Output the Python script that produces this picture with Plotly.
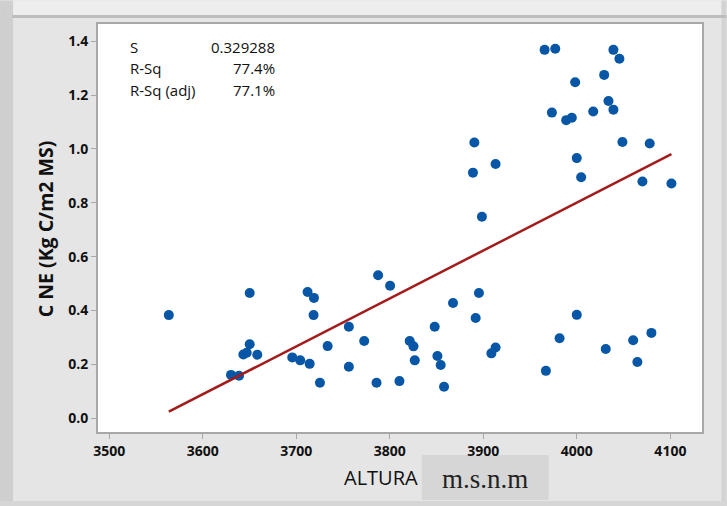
import plotly.graph_objects as go

# ---- data ----
altura = [3563.7, 3630.2, 3638.8, 3643.4, 3647.0, 3650.2, 3650.2, 3658.3, 3695.7, 3704.2,
          3714.3, 3712.1, 3718.9, 3718.5, 3725.3, 3733.5, 3756.2, 3756.2, 3772.6, 3787.5,
          3785.8, 3800.3, 3810.3, 3821.3, 3825.3, 3826.7, 3848.0, 3850.9, 3854.4, 3858.0,
          3867.6, 3888.9, 3890.4, 3891.8, 3895.3, 3898.5, 3908.6, 3913.1, 3913.1, 3965.5,
          3976.9, 3966.9, 3973.3, 3981.5, 3988.6, 3994.6, 3998.2, 3999.9, 3999.9, 4004.6,
          4017.5, 4029.2, 4030.9, 4033.8, 4039.1, 4039.1, 4045.5, 4048.7, 4060.2, 4064.7,
          4070.1, 4077.9, 4079.7, 4101.1]
cne = [0.383, 0.161, 0.158, 0.237, 0.243, 0.465, 0.275, 0.236, 0.226, 0.215,
       0.202, 0.469, 0.447, 0.383, 0.132, 0.268, 0.340, 0.191, 0.287, 0.531,
       0.132, 0.492, 0.138, 0.287, 0.267, 0.215, 0.340, 0.231, 0.198, 0.117,
       0.428, 0.912, 1.024, 0.372, 0.465, 0.748, 0.241, 0.263, 0.944, 1.368,
       1.372, 0.176, 1.135, 0.297, 1.107, 1.116, 1.248, 0.966, 0.384, 0.895,
       1.139, 1.275, 0.257, 1.178, 1.368, 1.146, 1.335, 1.026, 0.290, 0.209,
       0.879, 1.020, 0.317, 0.872]
fit_intercept = -6.319
fit_slope = 0.00178
stat_labels = ["S", "R-Sq", "R-Sq (adj)"]
stat_values = ["0.329288", "77.4%", "77.1%"]
x_ticks = [3500, 3600, 3700, 3800, 3900, 4000, 4100]
y_ticks = [0.0, 0.2, 0.4, 0.6, 0.8, 1.0, 1.2, 1.4]

W, H = 727, 506
L, R, T, B = 98, 702.5, 23.5, 432


def px(xp):
    return (xp - L) / (R - L)


def py(yp):
    return 1 - (yp - T) / (B - T)


FONT = "Open Sans"

fig = go.Figure()
xl = [min(altura), max(altura)]
fig.add_trace(go.Scatter(x=altura, y=cne, mode="markers",
                         marker=dict(size=10, color="#0856a6"),
                         showlegend=False, hoverinfo="x+y"))
fig.add_trace(go.Scatter(x=xl, y=[fit_intercept + fit_slope * v for v in xl], mode="lines",
                         line=dict(color="#a31b1b", width=2.5), showlegend=False))

shapes = [
    dict(type="rect", xref="paper", yref="paper", x0=px(0), x1=px(W), y0=py(0), y1=py(15),
         fillcolor="#ededed", line=dict(width=0), layer="below"),
    dict(type="line", xref="paper", yref="paper", x0=px(12), x1=px(W), y0=py(16), y1=py(16),
         line=dict(color="#bdbdbd", width=3)),
    dict(type="rect", xref="paper", yref="paper", x0=px(0), x1=px(13), y0=py(0), y1=py(H),
         fillcolor="#cfcfcf", line=dict(width=0), layer="below"),
    dict(type="rect", xref="paper", yref="paper", x0=px(722), x1=px(W), y0=py(0), y1=py(H),
         fillcolor="#d3d3d3", line=dict(width=0), layer="below"),
    dict(type="rect", xref="paper", yref="paper", x0=px(0), x1=px(W), y0=py(501), y1=py(H),
         fillcolor="#d6d6d6", line=dict(width=0), layer="below"),
    dict(type="rect", xref="paper", yref="paper", x0=px(422), x1=px(549), y0=py(455), y1=py(500),
         fillcolor="#d6d6d6", line=dict(width=0), layer="below"),
]

ann = []
for i, (lab, val) in enumerate(zip(stat_labels, stat_values)):
    yy = [47, 68, 90][i]
    ann.append(dict(x=px(128), y=py(yy), xref="paper", yref="paper", text=lab, showarrow=False,
                    xanchor="left", yanchor="middle", font=dict(family=FONT, size=15, color="#111")))
    ann.append(dict(x=px(277), y=py(yy), xref="paper", yref="paper", text=val, showarrow=False,
                    xanchor="right", yanchor="middle", font=dict(family=FONT, size=15, color="#111")))
ann.append(dict(x=px(45), y=py(229), xref="paper", yref="paper", text="<b>C NE (Kg C/m2 MS)</b>",
                textangle=-90, showarrow=False, xanchor="center", yanchor="middle",
                font=dict(family=FONT, size=19.5, color="#111")))
ann.append(dict(x=px(381), y=py(478), xref="paper", yref="paper", text="ALTURA",
                showarrow=False, xanchor="center", yanchor="middle",
                font=dict(family=FONT, size=20, color="#111")))
ann.append(dict(x=px(485.5), y=py(479), xref="paper", yref="paper", text="m.s.n.m",
                showarrow=False, xanchor="center", yanchor="middle",
                font=dict(family="Liberation Serif", size=27, color="#222")))

fig.update_layout(
    width=W, height=H,
    margin=dict(l=L, r=W - R, t=T, b=H - B, pad=0),
    paper_bgcolor="#e5e5e5", plot_bgcolor="white",
    shapes=shapes, annotations=ann,
    xaxis=dict(range=[3488, 4133.8], tickvals=x_ticks, ticktext=[f"<b>{v}</b>" for v in x_ticks],
               showgrid=False, zeroline=False, showline=True, mirror=True,
               linecolor="#a8a8a8", linewidth=2, ticks="outside", ticklen=5, tickcolor="#a8a8a8",
               tickfont=dict(family=FONT, size=14, color="#111")),
    yaxis=dict(range=[-0.051, 1.464], tickvals=y_ticks, ticktext=[f"<b>{v:.1f}</b>" for v in y_ticks],
               showgrid=False, zeroline=False, showline=True, mirror=True,
               linecolor="#a8a8a8", linewidth=2, ticks="outside", ticklen=5, tickcolor="#a8a8a8",
               tickfont=dict(family=FONT, size=14, color="#111")),
)

fig.write_html("out.html")
